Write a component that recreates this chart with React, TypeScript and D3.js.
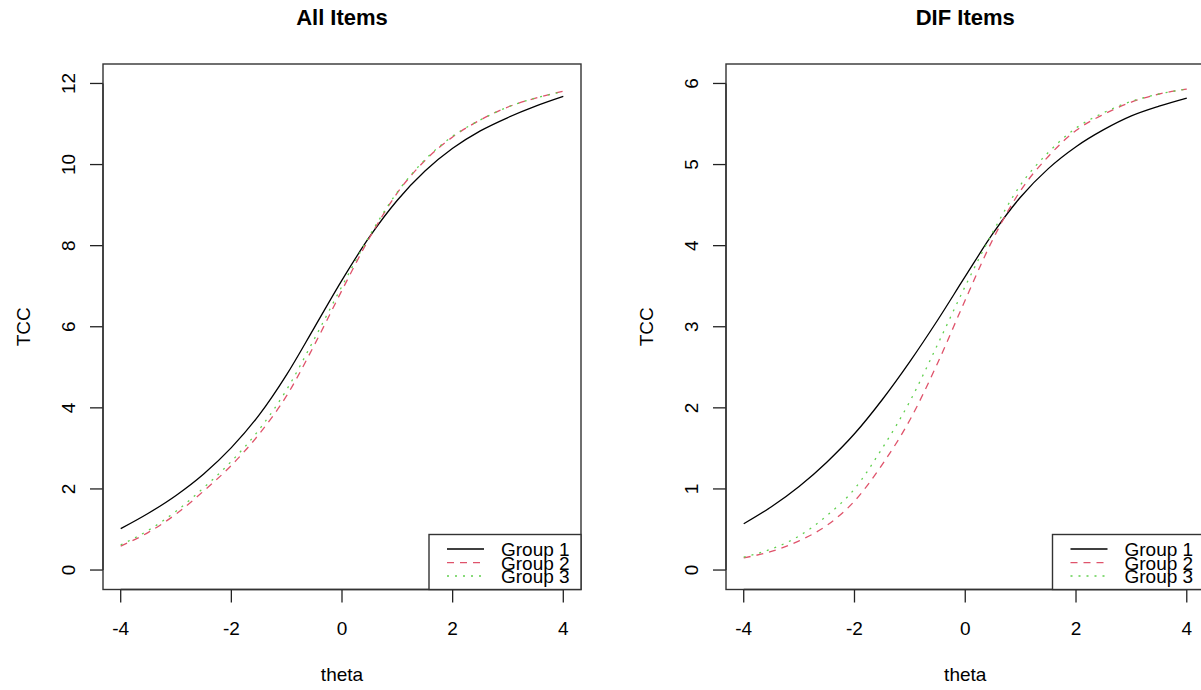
import React from 'react';
import * as d3 from 'd3';

// theta grid and TCC values
const theta = [-4, -3.5, -3, -2.5, -2, -1.5, -1, -0.5, 0, 0.5, 1, 1.5, 2, 2.5, 3, 3.5, 4];

const allGroup1 = [1.02, 1.4, 1.84, 2.37, 3.02, 3.82, 4.82, 5.98, 7.15, 8.22, 9.12, 9.84, 10.4, 10.83, 11.16, 11.44, 11.68];
const allGroup2 = [0.59, 0.93, 1.38, 1.95, 2.58, 3.35, 4.3, 5.55, 6.9, 8.2, 9.3, 10.1, 10.68, 11.1, 11.42, 11.64, 11.81];
const allGroup3 = [0.62, 0.98, 1.45, 2.03, 2.68, 3.46, 4.45, 5.7, 7.0, 8.25, 9.32, 10.12, 10.7, 11.1, 11.42, 11.64, 11.8];

const difGroup1 = [0.57, 0.78, 1.03, 1.33, 1.68, 2.1, 2.57, 3.08, 3.62, 4.15, 4.6, 4.95, 5.22, 5.43, 5.6, 5.72, 5.82];
const difGroup2 = [0.15, 0.23, 0.36, 0.55, 0.85, 1.3, 1.85, 2.55, 3.33, 4.08, 4.68, 5.1, 5.42, 5.62, 5.77, 5.87, 5.93];
const difGroup3 = [0.16, 0.26, 0.42, 0.67, 1.0, 1.5, 2.08, 2.78, 3.5, 4.17, 4.75, 5.15, 5.45, 5.64, 5.78, 5.87, 5.93];

const groupNames = ['Group 1', 'Group 2', 'Group 3'];
const xTicks = [-4, -2, 0, 2, 4];
const allTicks = [0, 2, 4, 6, 8, 10, 12];
const difTicks = [0, 1, 2, 3, 4, 5, 6];

const colors = ['#000000', '#DF536B', '#61D04F'];
const dashes = [undefined, '7,6', '2,6'];
const FONT = '"Liberation Sans", Arial, Helvetica, sans-serif';

type PanelProps = {
  title: string;
  series: number[][];
  yMax: number;
  yTicks: number[];
  x0: number;
  x1: number;
};

function Panel({ title, series, yMax, yTicks, x0, x1 }: PanelProps) {
  const top = 64;
  const bottom = 589.5;
  // R style 4% padding on each side
  const x = d3.scaleLinear().domain([-4.32, 4.32]).range([x0, x1]);
  const pad = yMax * 0.04;
  const y = d3.scaleLinear().domain([-pad, yMax + pad]).range([bottom, top]);

  const line = d3
    .line<number>()
    .x((_, i) => x(theta[i]))
    .y(d => y(d))
    .curve(d3.curveMonotoneX);

  const cx = (x0 + x1) / 2;
  const legW = 152;
  const legH = 55;
  const legX = x1 - legW;
  const legY = bottom - legH;
  const rowY = [bottom - 40.5, bottom - 26.8, bottom - 13.5];

  return (
    <g fontFamily={FONT}>
      <text x={cx} y={25} textAnchor="middle" fontSize={22} fontWeight="bold">
        {title}
      </text>

      {series.map((s, i) => (
        <path
          key={i}
          d={line(s) || ''}
          fill="none"
          stroke={colors[i]}
          strokeWidth={1.3}
          strokeDasharray={dashes[i]}
        />
      ))}

      {/* x axis */}
      <line x1={x(-4)} x2={x(4)} y1={bottom} y2={bottom} stroke="#222" strokeWidth={1.3} />
      {xTicks.map(t => (
        <g key={t}>
          <line x1={x(t)} x2={x(t)} y1={bottom} y2={bottom + 13} stroke="#222" strokeWidth={1.3} />
          <text x={x(t)} y={635} textAnchor="middle" fontSize={19}>
            {t}
          </text>
        </g>
      ))}
      <text x={cx} y={681} textAnchor="middle" fontSize={19}>
        theta
      </text>

      {/* y axis */}
      <line x1={x0} x2={x0} y1={y(0)} y2={y(yMax)} stroke="#222" strokeWidth={1.3} />
      {yTicks.map(t => (
        <g key={t}>
          <line x1={x0 - 13} x2={x0} y1={y(t)} y2={y(t)} stroke="#222" strokeWidth={1.3} />
          <text
            transform={`translate(${x0 - 28},${y(t)}) rotate(-90)`}
            textAnchor="middle"
            fontSize={19}
          >
            {t}
          </text>
        </g>
      ))}
      <text
        transform={`translate(${x0 - 73},${(top + bottom) / 2}) rotate(-90)`}
        textAnchor="middle"
        fontSize={19}
      >
        TCC
      </text>

      {/* plot box */}
      <rect x={x0} y={top} width={x1 - x0} height={bottom - top} fill="none" stroke="#333" strokeWidth={1.4} />

      {/* legend */}
      <rect x={legX} y={legY} width={legW} height={legH} fill="#fff" stroke="#333" strokeWidth={1.4} />
      {groupNames.map((g, i) => (
        <g key={g}>
          <line
            x1={legX + 18}
            x2={legX + 55}
            y1={rowY[i]}
            y2={rowY[i]}
            stroke={colors[i]}
            strokeWidth={1.3}
            strokeDasharray={dashes[i]}
          />
          <text x={legX + 72} y={rowY[i] + 6.8} fontSize={19}>
            {g}
          </text>
        </g>
      ))}
    </g>
  );
}

export default function App() {
  return (
    <div style={{ position: 'absolute', left: 0, top: 0 }}>
      <svg width={1201} height={690} style={{ display: 'block', background: '#fff' }}>
        <Panel
          title="All Items"
          series={[allGroup1, allGroup2, allGroup3]}
          yMax={12}
          yTicks={allTicks}
          x0={103}
          x1={581}
        />
        <Panel
          title="DIF Items"
          series={[difGroup1, difGroup2, difGroup3]}
          yMax={6}
          yTicks={difTicks}
          x0={726}
          x1={1204.5}
        />
      </svg>
    </div>
  );
}
